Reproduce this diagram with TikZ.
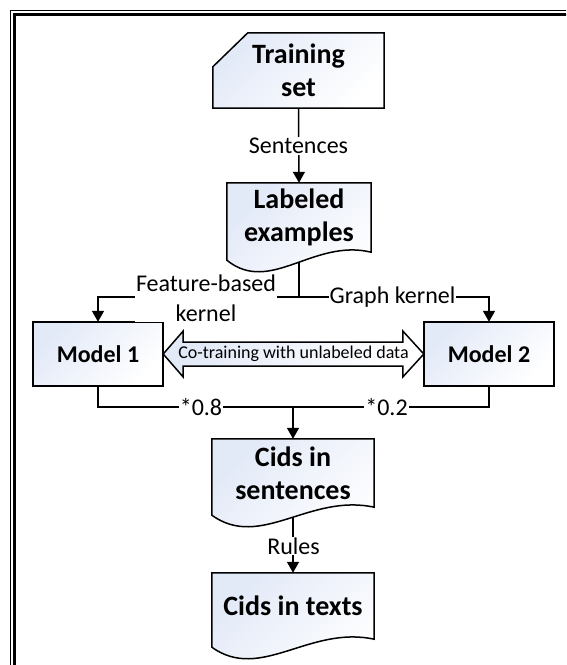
\documentclass[tikz,border=0pt]{standalone}
\usepackage{fontspec}
\setmainfont{Carlito}
\usetikzlibrary{arrows.meta,calc}
\definecolor{gradblue}{RGB}{226,233,247}
\pgfdeclarelayer{bg}
\pgfdeclarelayer{shp}
\pgfsetlayers{bg,shp,main}
\begin{document}
\begin{tikzpicture}[x=1pt,y=-1pt,
  box/.style={draw=none,inner sep=0pt,align=center,font=\bfseries\fontsize{28}{33}\selectfont},
  mbox/.style={box,font=\bfseries\fontsize{24}{28}\selectfont,minimum width=130,minimum height=64},
  shpst/.style={draw=black,line width=1.5pt,top color=gradblue,middle color=white,bottom color=white,shading angle=45},
  conn/.style={line width=1.5pt,draw=black},
  arr/.style={conn,-{Triangle[width=12pt,length=11pt]}},
  lbl/.style={fill=white,inner sep=1pt,font=\fontsize{24}{30}\selectfont,align=center},
]
\useasboundingbox (0,0) rectangle (566,665);
\begin{scope}
\clip (0,0) rectangle (566,665);
\draw[line width=1.4pt] (10.5,700) -- (10.5,10.5) -- (600,10.5);
\draw[line width=2.3pt] (14.5,700) -- (14.5,14.5) -- (600,14.5);
\end{scope}

% nodes
\node[box,minimum width=171,minimum height=75] (train) at (298.5,70.5) {Training\\set};
\node[box,minimum width=144,minimum height=69] (lab) at (299,217.5) {Labeled\\examples};
\node[mbox] (m1) at (98,354) {Model 1};
\node[mbox] (m2) at (489,354) {Model 2};
\node[box,minimum width=162,minimum height=68] (cs) at (293,473) {Cids in\\sentences};
\node[box,minimum width=162,minimum height=66] (ct) at (293,606) {Cids in texts};
\node[font=\fontsize{18}{20}\selectfont,inner sep=0pt] (cot) at ($(m1.east)!0.5!(m2.west)$) {Co-training with unlabeled data};

% shapes
\newcommand{\docshape}[1]{%
  \path[shpst] (#1.north west) -- (#1.north east) -- ($(#1.south east)+(0,0)$)
    .. controls ($(#1.south west)!0.6!(#1.south east)+(0,-14)$) and ($(#1.south west)!0.3!(#1.south east)+(0,43)$) .. ($(#1.south west)+(0,8)$) -- cycle;}
\begin{pgfonlayer}{shp}
\path[shpst] ($(train.north west)+(35,0)$) -- (train.north east) -- (train.south east) -- (train.south west) -- ($(train.north west)+(0,34)$) -- cycle;
\docshape{lab}
\docshape{cs}
\docshape{ct}
\path[shpst] (m1.north west) rectangle (m1.south east);
\path[shpst] (m2.north west) rectangle (m2.south east);
\path[shpst] (m1.east) -- ++(20,-23) -- ++(0,11) -- ($(m2.west)+(-21,-12)$) -- ++(0,-11) -- (m2.west)
  -- ++(-21,23) -- ++(0,-11) -- ($(m1.east)+(20,12)$) -- ++(0,11) -- cycle;
\end{pgfonlayer}

% connectors
\coordinate (j1) at (lab.south |- 0,297);
\coordinate (j2) at (cs.north |- 0,407);
\begin{pgfonlayer}{bg}
\draw[arr] (train.south) -- (lab.north);
\draw[conn] (lab.south) -- (j1);
\draw[arr] (j1) -| (m1.north);
\draw[arr] (j1) -| (m2.north);
\draw[conn] (m1.south) |- (j2);
\draw[conn] (m2.south) |- (j2);
\draw[arr] (j2) -- (cs.north);
\draw[arr] (cs.south) -- (ct.north);
\end{pgfonlayer}

% labels
\node[lbl] (l1) at (298.5,146) {Sentences};
\node[lbl] (l2) at (206,298) {Feature-based\\kernel};
\node[lbl] (l3) at (392.5,297) {Graph kernel};
\node[lbl] (l4) at (201,407) {*0.8};
\node[lbl] (l5) at (386.5,407) {*0.2};
\node[lbl] (l6) at (293.5,546) {Rules};
\end{tikzpicture}
\end{document}
